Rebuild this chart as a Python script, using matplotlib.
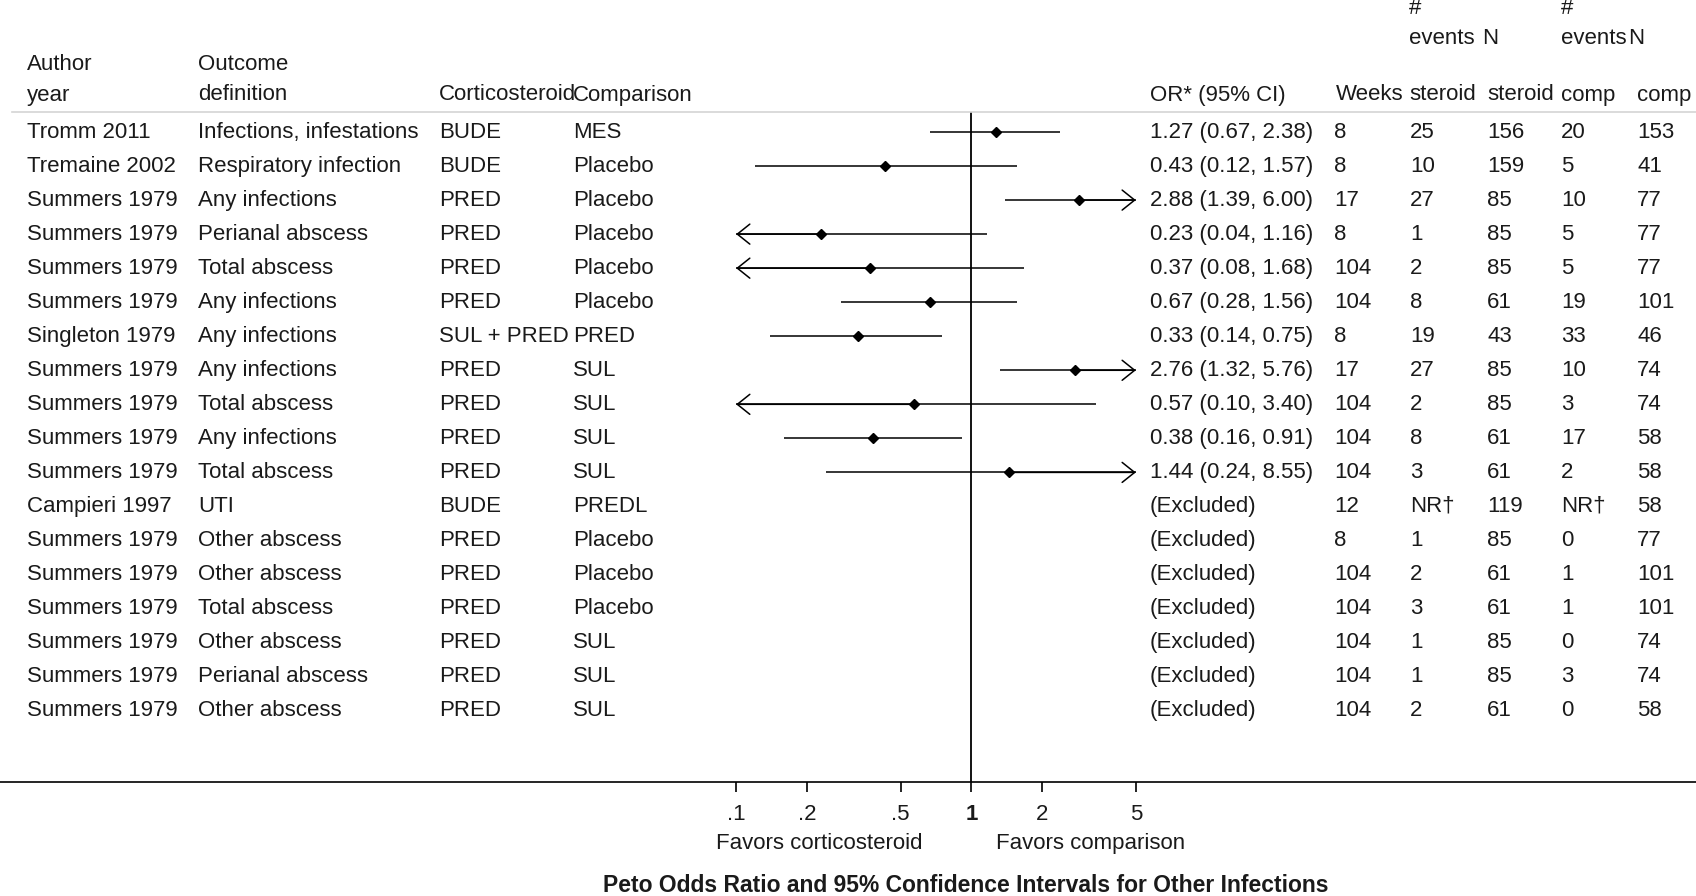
import matplotlib
matplotlib.use("Agg")
import matplotlib.pyplot as plt
import matplotlib.transforms as mtransforms
import numpy as np

plt.rcParams['font.family'] = ['Liberation Sans', 'DejaVu Sans']

# Study rows (top to bottom)
autores = ["Tromm 2011", "Tremaine 2002", "Summers 1979", "Summers 1979", "Summers 1979",
           "Summers 1979", "Singleton 1979", "Summers 1979", "Summers 1979", "Summers 1979",
           "Summers 1979", "Campieri 1997", "Summers 1979", "Summers 1979", "Summers 1979",
           "Summers 1979", "Summers 1979", "Summers 1979"]
desenlaces = ["Infections, infestations", "Respiratory infection", "Any infections",
              "Perianal abscess", "Total abscess", "Any infections", "Any infections",
              "Any infections", "Total abscess", "Any infections", "Total abscess", "UTI",
              "Other abscess", "Other abscess", "Total abscess", "Other abscess",
              "Perianal abscess", "Other abscess"]
corticoides = ["BUDE", "BUDE", "PRED", "PRED", "PRED", "PRED", "SUL + PRED", "PRED", "PRED",
               "PRED", "PRED", "BUDE", "PRED", "PRED", "PRED", "PRED", "PRED", "PRED"]
comparadores = ["MES", "Placebo", "Placebo", "Placebo", "Placebo", "Placebo", "PRED", "SUL",
                "SUL", "SUL", "SUL", "PREDL", "Placebo", "Placebo", "Placebo", "SUL", "SUL", "SUL"]

# Peto OR with 95% CI (None = excluded from the estimate)
or_est = [1.27, 0.43, 2.88, 0.23, 0.37, 0.67, 0.33, 2.76, 0.57, 0.38, 1.44,
          None, None, None, None, None, None, None]
ic_inf = [0.67, 0.12, 1.39, 0.04, 0.08, 0.28, 0.14, 1.32, 0.10, 0.16, 0.24,
          None, None, None, None, None, None, None]
ic_sup = [2.38, 1.57, 6.00, 1.16, 1.68, 1.56, 0.75, 5.76, 3.40, 0.91, 8.55,
          None, None, None, None, None, None, None]

semanas = ["8", "8", "17", "8", "104", "104", "8", "17", "104", "104", "104",
           "12", "8", "104", "104", "104", "104", "104"]
ev_esteroide = ["25", "10", "27", "1", "2", "8", "19", "27", "2", "8", "3",
                "NR\u2020", "1", "2", "3", "1", "1", "2"]
n_esteroide = ["156", "159", "85", "85", "85", "61", "43", "85", "85", "61", "61",
               "119", "85", "61", "61", "85", "85", "61"]
ev_comp = ["20", "5", "10", "5", "5", "19", "33", "10", "3", "17", "2",
           "NR\u2020", "0", "1", "1", "0", "3", "0"]
n_comp = ["153", "41", "77", "77", "77", "101", "46", "74", "74", "58", "58",
          "58", "77", "101", "101", "74", "74", "58"]

ticks = [0.1, 0.2, 0.5, 1, 2, 5]
tick_labels = [".1", ".2", ".5", "1", "2", "5"]
limite_inf, limite_sup = 0.1, 5

W, H = 1696, 896
COLOR = "#1a1a1a"
FS = 16

fig = plt.figure(figsize=(W / 100, H / 100), dpi=100)
fig.patch.set_facecolor("white")

def fx(px):
    return px / W

def fy(py):
    return 1 - py / H

# forest axes: log scale, 1 at x=971 px, one decade = 235 px
y_top, y_bot, y_row0, paso = 112, 782, 132, 34.04
ax = fig.add_axes([0, fy(y_bot), 1, (y_bot - y_top) / H])
ax.set_xscale("log")
ax.set_xlim(10 ** (-971.4 / 235.3), 10 ** ((W - 971.4) / 235.3))
ax.set_ylim((y_bot - y_row0) / paso, (y_top - y_row0) / paso)
for s in ["top", "left", "right"]:
    ax.spines[s].set_visible(False)
ax.spines["bottom"].set_linewidth(1.2)
ax.yaxis.set_visible(False)
ax.set_xticks(ticks)
ax.set_xticklabels(tick_labels, fontsize=FS, color=COLOR)
ax.xaxis.set_minor_locator(matplotlib.ticker.NullLocator())
ax.tick_params(axis="x", length=7, width=1.2, pad=9)
for lab in ax.get_xticklabels():
    if lab.get_text() == "1":
        lab.set_fontweight("bold")
ax.axvline(1, color="black", lw=1.3)

flecha = dict(arrowstyle="->,head_length=0.75,head_width=0.6", mutation_scale=12,
              lw=1.1, color="black", shrinkA=0, shrinkB=0)

for i, (est, lo, hi) in enumerate(zip(or_est, ic_inf, ic_sup)):
    if est is None:
        continue
    lo_c = max(lo, limite_inf)
    hi_c = min(hi, limite_sup)
    ax.plot([lo_c, hi_c], [i, i], color="black", lw=1.1, solid_capstyle="butt")
    if lo <= limite_inf:
        ax.annotate("", xy=(lo_c, i), xytext=(est, i), arrowprops=flecha)
    if hi > limite_sup:
        ax.annotate("", xy=(hi_c, i), xytext=(est, i), arrowprops=flecha)
    ax.plot(est, i, marker="D", ms=5, color="black", zorder=3)

# table text: x in figure fraction, y in row units
tr = mtransforms.blended_transform_factory(fig.transFigure, ax.transData)
col_x = {"autor": 27, "desenlace": 198, "cort": 439, "comp": 573, "or": 1150,
         "sem": 1334, "ev_s": 1410, "n_s": 1487, "ev_c": 1561, "n_c": 1637}

def celda(x, i, s, **kw):
    ax.text(fx(x), i, s, transform=tr, fontsize=FS, color=COLOR, ha="left",
            va="center", clip_on=False, **kw)

for i in range(len(autores)):
    celda(col_x["autor"], i, autores[i])
    celda(col_x["desenlace"], i, desenlaces[i])
    celda(col_x["cort"], i, corticoides[i])
    celda(col_x["comp"], i, comparadores[i])
    if or_est[i] is None:
        celda(col_x["or"], i, "(Excluded)")
    else:
        celda(col_x["or"], i, f"{or_est[i]:.2f} ({ic_inf[i]:.2f}, {ic_sup[i]:.2f})")
    celda(col_x["sem"], i, semanas[i])
    celda(col_x["ev_s"], i, ev_esteroide[i])
    celda(col_x["n_s"], i, n_esteroide[i])
    celda(col_x["ev_c"], i, ev_comp[i])
    celda(col_x["n_c"], i, n_comp[i])

# header
def cab(x, y, s, **kw):
    fig.text(fx(x), fy(y), s, fontsize=FS, color=COLOR, ha="left", va="center", **kw)

cab(1409, 9, "#")
cab(1561, 9, "#")
cab(1409, 38, "events")
cab(1482, 38, "N")
cab(1561, 38, "events")
cab(1628, 38, "N")
cab(27, 65, "Author")
cab(198, 65, "Outcome")
cab(27, 95, "year")
cab(198, 95, "definition")
cab(439, 95, "Corticosteroid")
cab(573, 95, "Comparison")
cab(1150, 95, "OR* (95% CI)")
cab(1336, 95, "Weeks")
cab(1409, 95, "steroid")
cab(1487, 95, "steroid")
cab(1561, 95, "comp")
cab(1637, 95, "comp")
fig.add_artist(plt.Line2D([fx(12), fx(W)], [fy(112), fy(112)], color="#d4d4d4", lw=1.2))

fig.text(fx(923), fy(843), "Favors corticosteroid", fontsize=FS, color=COLOR,
         ha="right", va="center")
fig.text(fx(996), fy(843), "Favors comparison", fontsize=FS, color=COLOR,
         ha="left", va="center")
fig.text(fx(966), fy(885), "Peto Odds Ratio and 95% Confidence Intervals for Other Infections",
         fontsize=16.5, fontweight="bold", color=COLOR, ha="center", va="center")

fig.savefig("out.png", dpi=100, facecolor="white")
